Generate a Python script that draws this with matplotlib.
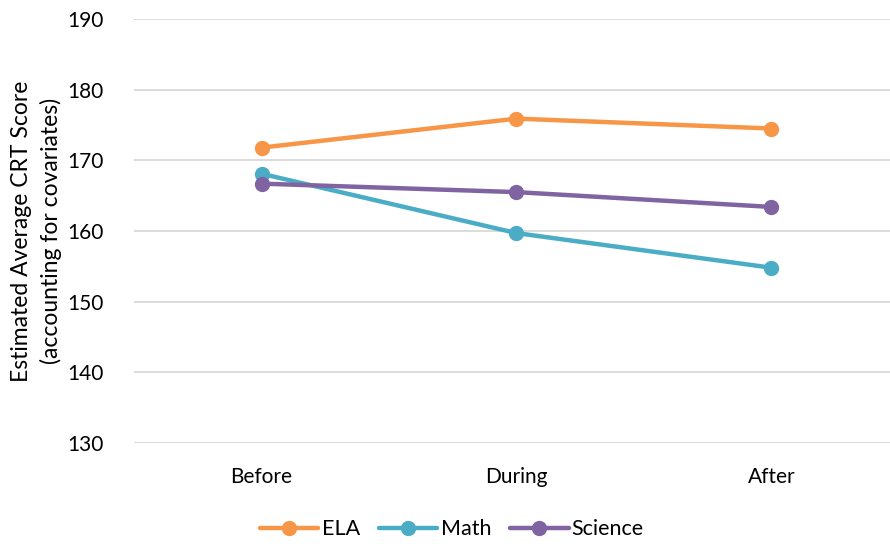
import matplotlib.pyplot as plt

periods = ['Before', 'During', 'After']
ela = [171.8, 175.9, 174.5]
math = [168.1, 159.7, 154.8]
science = [166.7, 165.5, 163.4]

series = [('ELA', ela, '#F79646'), ('Math', math, '#4BACC6'), ('Science', science, '#8064A2')]

plt.rcParams['font.family'] = ['Lato', 'DejaVu Sans']

fig = plt.figure(figsize=(8.9, 5.44), dpi=100)
ax = fig.add_axes([0.1506, 0.1857, 0.8494, 0.7794])

x = range(len(periods))
for name, vals, color in series:
    ax.plot(x, vals, color=color, linewidth=3.2, marker='o', markersize=10,
            solid_capstyle='round', label=name)

ax.set_ylim(130, 190)
ax.set_yticks(range(130, 191, 10))
ax.set_xlim(-0.5, 2.465)
ax.set_xticks(list(x))
ax.set_xticklabels(periods)
ax.grid(axis='y', color='#D9D9D9', linewidth=1.3)
ax.set_axisbelow(True)
for s in ax.spines.values():
    s.set_visible(False)
ax.tick_params(axis='both', length=0, labelsize=15, colors='black')
ax.tick_params(axis='y', pad=22)
ax.tick_params(axis='x', pad=17)
ax.set_ylabel('Estimated Average CRT Score\n(accounting for covariates)', fontsize=16.5,
              linespacing=1.45)
ax.yaxis.set_label_coords(-0.095, 0.5)

fig.legend(loc='center', bbox_to_anchor=(0.508, 0.027), ncol=3, frameon=False, fontsize=15.5,
           handlelength=2.7, columnspacing=0.9, handletextpad=0.15)

fig.savefig('out.png', dpi=100)
